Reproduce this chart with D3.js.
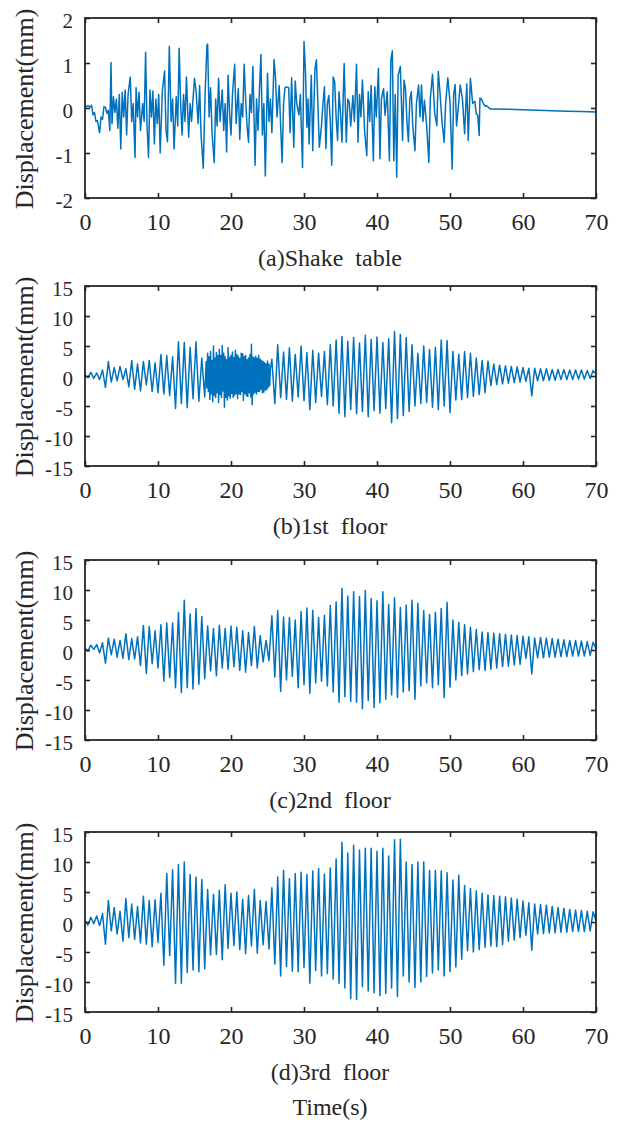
<!DOCTYPE html>
<html>
<head>
<meta charset="utf-8">
<script src="https://cdn.jsdelivr.net/npm/d3@7/dist/d3.min.js"></script>
<style>
    body { margin: 0; background: #fff; }
    text { font-family: "Liberation Serif", "Times New Roman", serif; fill: #262626; }
</style>
</head>
<body>
<div id="chart"></div>
<script>
// (a) shake table: irregular samples [time (s)], [displacement (mm)]
const shakeTime = [0.0,0.4,0.7,0.9,1.1,1.3,1.5,1.7,2.0,2.2,2.4,2.6,2.8,3.0,3.2,3.4,3.56,3.7,3.9,4.1,4.3,4.5,4.7,4.9,5.1,5.3,5.5,5.7,5.9,6.2,6.4,6.6,6.85,7.0,7.2,7.4,7.6,7.9,8.1,8.3,8.5,8.7,8.9,9.1,9.3,9.5,9.7,9.9,10.1,10.3,10.6,10.9,11.1,11.3,11.55,11.8,12.0,12.2,12.5,12.7,12.9,13.1,13.3,13.5,13.7,13.9,14.2,14.4,14.6,14.8,15.0,15.2,15.5,15.7,15.9,16.2,16.45,16.7,16.8,17.0,17.2,17.4,17.7,17.9,18.1,18.3,18.5,18.8,19.0,19.2,19.4,19.6,19.8,20.0,20.2,20.5,20.7,21.0,21.2,21.4,21.6,21.8,22.0,22.2,22.4,22.6,22.8,23.0,23.3,23.5,23.7,23.9,24.1,24.3,24.5,24.7,25.0,25.2,25.4,25.6,25.9,26.1,26.3,26.6,26.8,27.0,27.2,27.4,27.6,27.9,28.1,28.3,28.6,28.8,29.0,29.3,29.5,29.8,30.0,30.2,30.4,30.55,30.7,31.0,31.2,31.5,31.7,31.9,32.1,32.4,32.6,32.8,33.0,33.2,33.4,33.6,33.8,34.0,34.2,34.4,34.6,34.8,35.0,35.2,35.5,35.8,36.0,36.2,36.4,36.7,36.9,37.2,37.4,37.6,37.8,38.0,38.3,38.6,38.8,39.0,39.2,39.5,39.7,39.9,40.2,40.4,40.6,40.9,41.1,41.4,41.7,41.9,42.1,42.3,42.5,42.7,42.9,43.2,43.5,43.7,43.9,44.1,44.3,44.5,44.7,44.9,45.2,45.4,45.7,45.9,46.1,46.3,46.5,46.8,47.1,47.3,47.6,47.9,48.2,48.4,48.6,48.9,49.2,49.4,49.7,50.0,50.3,50.5,50.7,50.9,51.1,51.4,51.7,52.0,52.3,52.5,52.8,53.1,53.4,53.6,53.8,54.0,54.1,54.3,54.5,54.8,55.0,55.5,56.0,58.0,60.0,62.0,64.0,66.0,68.0,70.0];
const shakeDisp = [0.02,0.05,0.02,0.06,-0.15,-0.1,-0.3,-0.28,-0.55,-0.2,-0.25,0.03,0.02,-0.12,-0.05,-0.5,1.01,-0.35,0.25,-0.1,0.2,-0.45,0.3,-0.91,0.35,-0.2,0.4,-0.6,0.3,0.69,-0.3,0.1,-1.1,0.45,-0.2,0.35,-0.5,0.1,-0.3,1.24,-0.4,-1.1,0.4,-0.2,0.38,-0.8,0.2,-0.35,0.3,-1.0,0.4,0.82,-0.5,-0.75,1.37,-0.3,0.2,-0.91,0.25,-0.4,1.33,0.1,-0.6,0.3,-0.3,0.69,-0.65,0.1,-0.3,0.2,0.66,0.4,-0.35,0.5,-0.6,-1.34,0.3,1.39,1.42,-0.2,0.45,-0.55,-1.21,0.2,-0.4,0.66,-0.3,0.4,-0.5,0.1,-0.98,0.73,-0.1,-0.6,0.3,0.97,-0.35,0.43,-0.7,0.1,-0.2,0.97,0.2,-0.4,-0.76,0.3,-0.1,0.92,-1.27,0.2,-0.5,0.4,1.19,-0.6,0.1,-1.51,0.77,-0.3,0.2,-0.55,1.08,0.66,-0.2,0.5,-0.4,-1.21,0.1,0.45,0.47,0.45,-0.55,0.67,-0.87,0.6,0.1,-0.15,0.3,-1.32,1.48,0.82,-0.43,0.2,-0.8,0.73,-0.95,0.88,1.07,0.1,-0.87,-0.39,0.1,0.47,-0.9,0.1,0.28,-0.3,-1.27,0.69,0.58,-0.2,-0.72,0.36,-0.1,-0.76,0.99,-0.76,0.2,0.13,-0.4,0.28,-0.3,0.97,-0.76,0.3,-0.2,0.62,-0.5,-1.06,0.36,-0.3,0.5,-1.17,0.47,-0.2,0.88,-1.13,0.2,0.43,-0.16,0.36,-1.17,1.07,1.27,-1.17,0.3,-1.54,0.73,0.92,-0.72,0.62,0.43,-0.3,-0.75,0.2,0.36,-0.4,-0.95,0.1,0.51,-0.2,0.51,-0.3,0.17,-0.39,-1.21,0.2,0.75,-0.1,-0.39,0.81,0.4,-0.3,-0.76,0.1,0.67,0.13,-1.36,0.3,0.52,-0.4,-0.05,0.51,0.21,-0.57,0.54,-0.72,0.66,0.1,0.15,-0.13,-0.16,-0.61,0.22,0.2,0.12,0.04,0.05,-0.02,-0.02,-0.03,-0.04,-0.05,-0.06,-0.07,-0.08,-0.09];

// (b) 1st floor: 0.4 s peaks, with a 0.1 s stretch for the dense part 16.6-25.4 s
const floor1Early = [0.2,-0.3,0.6,-0.4,0.5, -0.6,1.0,-1.9,2.4,-1.0, 1.4,-0.8,1.6,-0.6,1.2, -1.8,2.6,-2.2,2.0,-2.5, 2.4,-1.5,2.6,-2.6,2.2, -2.8,3.6,-3.0,3.4,-3.3, 3.2,-5.4,5.7,-4.6,5.6, -5.3,4.8,-3.8,5.7,-4.2, 3.0,-3.5];
const floor1Burst = [2.4,-2.0,3.8,-2.6,3.2,-3.9,4.1,-3.0,2.6,-4.3,
    5.0,-3.2,3.0,-3.6,3.9,-2.8,3.4,-4.4,4.4,-3.1,
    3.4,-3.6,5.1,-2.5,3.8,-5.2,3.2,-3.6,2.7,-4.0,
    4.7,-3.3,3.1,-3.7,3.4,-2.9,4.0,-3.6,3.1,-3.2,
    4.3,-2.9,3.6,-3.8,3.3,-3.0,2.9,-3.1,3.8,-2.6,
    3.7,-4.1,3.2,-2.9,3.4,-3.3,2.7,-3.4,3.0,-2.8,
    3.6,-3.5,5.3,-4.8,3.2,-3.0,3.0,-2.7,3.3,-3.0,
    2.9,-2.6,3.4,-2.6,2.8,-2.2,2.6,-2.8,2.4,-2.7,
    2.2,-2.3,2.0,-2.3,2.5,-1.9,2.0,-1.6,1.2];
const floor1Late = [2.8,-4.6,5.2,-3.6,4.0, -3.9,4.7,-4.2,3.6,-3.5, 5.0,-4.1,3.9,-5.6,4.3, -4.4,3.8,-3.4,4.1,-4.8,
    5.2,-5.0,6.0,-6.2,6.6, -6.8,5.8,-5.6,6.4,-6.3, 5.5,-5.9,6.8,-6.8,6.1, -5.8,6.5,-6.2,5.6,-5.4,
    6.2,-7.8,7.4,-7.1,6.9, -6.6,6.4,-5.9,5.2,-5.0, 3.8,-4.6,5.0,-4.4,4.4, -5.2,4.8,-5.6,6.0,-5.0,
    5.9,-6.1,4.1,-4.0,3.6, -3.9,4.1,-3.6,3.8,-3.4, 3.0,-3.1,2.6,-2.8,2.5, -1.6,2.0,-1.4,1.8,-1.3,
    1.7,-1.2,1.6,-1.1,1.5, -1.0,1.4,-0.9,1.3,-3.3, 1.3,-0.8,1.2,-0.8,1.2, -0.7,1.1,-0.7,1.1,-0.6,
    1.1,-0.6,1.0,-0.6,1.0, -0.5,1.0,-0.5,0.9,-0.4, 0.9,0.3];

// (c) 2nd floor: peaks every 0.4 s from 0 to 70 s
const floor2Disp = [0.3,-0.2,0.8,0.1,0.9, -0.5,1.2,-2.2,2.0,-0.8, 1.8,-1.2,1.6,-1.4,2.7, -1.6,1.9,-1.5,2.2,-2.6,
    4.1,-3.9,3.9,-2.3,3.2, -3.0,4.2,-5.2,4.5,-4.6, 4.5,-6.3,6.3,-7.1,8.3, -6.3,6.0,-6.5,6.9,-5.7,
    5.6,-4.8,4.0,-3.5,3.6, -4.3,4.1,-3.0,3.6,-3.2, 4.0,-2.8,3.8,-3.4,3.2, -3.7,2.9,-2.6,3.9,-3.0,
    2.4,-2.0,1.6,-1.8,5.7, -4.5,6.6,-6.9,5.5,-5.0, 5.4,-4.4,5.0,-6.3,6.4, -5.8,7.0,-7.2,6.6,-5.5,
    5.4,-5.2,5.8,-6.0,7.4, -7.0,8.0,-8.7,10.3,-7.8, 9.0,-8.6,9.7,-8.7,8.9, -9.8,9.9,-8.4,8.6,-9.6,
    8.2,-8.8,9.7,-8.2,7.6, -7.5,8.7,-7.9,7.1,-7.0, 7.5,-6.8,8.3,-8.2,7.8, -6.0,6.6,-5.5,5.9,-6.3,
    6.3,-5.8,6.9,-7.9,7.9, -6.2,5.0,-5.0,4.6,-4.3, 4.2,-4.0,3.8,-3.6,3.4, -3.3,3.0,-3.4,2.9,-3.2,
    2.8,-3.0,2.7,-2.8,2.6, -2.7,2.5,-2.5,2.4,-2.4, 2.3,-1.4,2.2,-4.0,2.0, -1.3,2.1,-1.3,2.0,-1.2,
    1.9,-1.2,1.8,-1.1,1.7, -1.1,1.6,-1.0,1.6,-1.0, 1.5,-1.0,1.4,-0.9,1.3, 0.2];

// (d) 3rd floor: peaks every 0.4 s from 0 to 70 s
const floor3Disp = [0.2,-0.5,0.8,-0.3,1.0, -0.6,1.4,-3.7,3.6,-1.5, 2.4,-2.0,1.8,-3.2,3.9, -2.6,3.0,-2.9,2.6,-3.5,
    4.3,-3.7,3.6,-4.1,3.7, -3.4,4.8,-7.2,8.1,-5.6, 8.7,-10.2,9.6,-10.2,10.0, -8.4,7.9,-8.0,7.5,-8.3,
    7.1,-7.8,5.4,-5.5,4.6, -5.4,5.3,-6.3,6.2,-4.4, 4.8,-3.9,5.0,-4.6,3.8, -5.3,4.4,-4.0,5.4,-5.2,
    3.6,-3.8,3.4,-4.5,5.7, -7.0,7.5,-9.0,8.6,-7.4, 7.2,-8.2,8.1,-8.3,8.3, -7.6,7.9,-10.2,8.5,-8.1,
    8.9,-9.0,8.0,-8.6,9.0, -9.5,10.5,-10.2,13.3,-11.0, 11.5,-12.8,12.8,-12.9,12.0, -10.8,12.3,-11.5,12.3,-11.8,
    11.8,-12.3,12.3,-11.9,11.0, -11.0,13.7,-12.4,13.8,-9.0, 10.0,-10.0,9.6,-10.9,10.0, -10.0,10.0,-9.1,8.6,-8.5,
    8.6,-8.0,8.5,-9.0,8.2, -8.3,7.0,-7.5,7.8,-6.2, 6.1,-4.8,5.6,-5.0,5.2, -4.6,4.8,-4.2,4.5,-4.0,
    4.4,-4.1,4.3,-3.8,4.2, -3.2,4.0,-3.0,3.8,-2.6, 3.5,-2.2,3.2,-4.7,3.0, -2.0,2.9,-1.9,2.8,-1.8,
    2.6,-1.8,2.4,-1.7,2.3, -1.7,2.1,-1.6,2.0,-1.6, 1.9,-1.6,1.8,-1.5,1.7, 0.2];

const timeTicks = [0, 10, 20, 30, 40, 50, 60, 70];
const shakeTicks = [-2, -1, 0, 1, 2];
const floorTicks = [-15, -10, -5, 0, 5, 10, 15];

function stepped(t0, dt, values) {
    return values.map((v, i) => ({ t: t0 + i * dt, v: v }));
}

const panels = [
    { top: 18, domain: [-2, 2], ticks: shakeTicks, title: "(a)Shake  table",
      data: shakeTime.map((t, i) => ({ t: t, v: shakeDisp[i] })) },
    { top: 286, domain: [-15, 15], ticks: floorTicks, title: "(b)1st  floor",
      data: stepped(0, 0.4, floor1Early).concat(stepped(16.6, 0.1, floor1Burst), stepped(25.6, 0.4, floor1Late)) },
    { top: 560, domain: [-15, 15], ticks: floorTicks, title: "(c)2nd  floor",
      data: stepped(0, 0.4, floor2Disp) },
    { top: 832, domain: [-15, 15], ticks: floorTicks, title: "(d)3rd  floor",
      data: stepped(0, 0.4, floor3Disp) }
];

const width = 619, height = 1122;
const left = 85, right = 596, plotH = 180;

const svg = d3.select("#chart")
    .append("svg")
    .attr("width", width)
    .attr("height", height)
    .style("background", "#fff");

const x = d3.scaleLinear().domain([0, 70]).range([left, right]);

panels.forEach(p => {
    const y = d3.scaleLinear().domain(p.domain).range([p.top + plotH, p.top]);
    const g = svg.append("g");

    const line = d3.line()
        .x(d => x(d.t))
        .y(d => y(d.v));

    g.append("path")
        .datum(p.data)
        .attr("fill", "none")
        .attr("stroke", "#0072BD")
        .attr("stroke-width", 1.5)
        .attr("stroke-linejoin", "round")
        .attr("d", line);

    // ticks inside the box on all four sides
    const bottom = g.append("g")
        .attr("transform", `translate(0,${p.top + plotH})`)
        .call(d3.axisBottom(x).tickValues(timeTicks).tickSizeInner(-5).tickSizeOuter(0).tickPadding(15).tickFormat(d => String(d)));
    const top = g.append("g")
        .attr("transform", `translate(0,${p.top})`)
        .call(d3.axisTop(x).tickValues(timeTicks).tickSizeInner(-5).tickSizeOuter(0).tickFormat(""));
    const leftAxis = g.append("g")
        .attr("transform", `translate(${left},0)`)
        .call(d3.axisLeft(y).tickValues(p.ticks).tickSizeInner(-5).tickSizeOuter(0).tickPadding(12).tickFormat(d => String(d)));
    const rightAxis = g.append("g")
        .attr("transform", `translate(${right},0)`)
        .call(d3.axisRight(y).tickValues(p.ticks).tickSizeInner(-5).tickSizeOuter(0).tickFormat(""));

    [bottom, top, leftAxis, rightAxis].forEach(a => {
        a.select(".domain").remove();
        a.selectAll(".tick line").attr("stroke", "#262626").attr("stroke-width", 1.6);
    });
    bottom.selectAll("text").attr("font-size", 24).attr("fill", "#262626")
        .style("font-family", "'Liberation Serif', serif");
    leftAxis.selectAll("text").attr("font-size", 21).attr("fill", "#262626").attr("dy", "0.45em")
        .style("font-family", "'Liberation Serif', serif");

    g.append("rect")
        .attr("x", left)
        .attr("y", p.top)
        .attr("width", right - left)
        .attr("height", plotH)
        .attr("fill", "none")
        .attr("stroke", "#262626")
        .attr("stroke-width", 1.8);

    g.append("text")
        .attr("transform", `translate(33,${p.top + plotH / 2 + 1}) rotate(-90)`)
        .attr("text-anchor", "middle")
        .attr("font-size", 26)
        .text("Displacement(mm)");

    g.append("text")
        .attr("x", 330)
        .attr("y", p.top + plotH + 68)
        .attr("text-anchor", "middle")
        .attr("font-size", 24)
        .style("white-space", "pre")
        .text(p.title);
});

svg.append("text")
    .attr("x", 330)
    .attr("y", 1115)
    .attr("text-anchor", "middle")
    .attr("font-size", 24)
    .text("Time(s)");
</script>
</body>
</html>
